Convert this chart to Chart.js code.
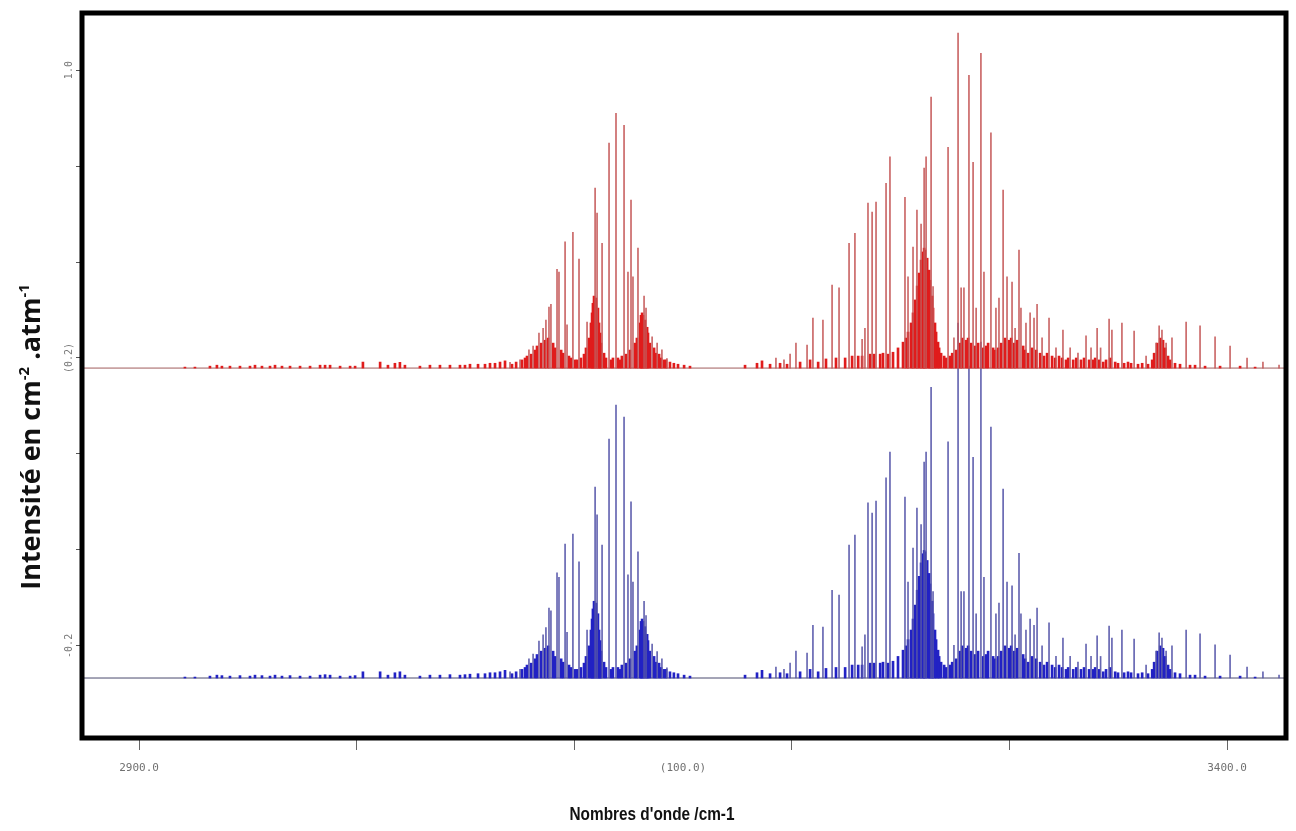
<!DOCTYPE html>
<html>
<head>
<meta charset="utf-8">
<script src="https://cdn.jsdelivr.net/npm/chart.js@4.4.1/dist/chart.umd.min.js"></script>
<style>
html,body{margin:0;padding:0;background:#fff;}
#wrap{width:1296px;height:831px;position:relative;}
</style>
</head>
<body>
<div id="wrap"><canvas id="c" width="1296" height="831"></canvas></div>
<script>
// ---------- DATA ----------
const X_RANGE = [2873.8, 3427.1];
const Y_RANGE = [-0.392, 1.119];
const X_TICKS = [2900, 3000, 3100, 3150, 3200, 3300, 3400];
const X_TICK_LABELS = ['2900.0', '', '', '(100.0)', '', '', '3400.0'];
const Y_TICKS = [-0.2, 0, 0.2, 0.4, 0.6, 0.8, 1.0];
const Y_TICK_LABELS = ['-0.2', '', '', '(0.2)', '', '', '1.0'];
const X_TITLE = "Nombres d'onde /cm-1";
const Y_TITLE_PARTS = [['Intensité en cm', false], ['-2', true], [' .atm', false], ['-1', true]];

// baselines of the two spectra (y-axis units)
const RED_BASELINE = 0.379;
const BLUE_BASELINE = -0.267;

// strong lines: wavenumbers (cm-1) and intensities above baseline
const LINE_WN = [
  3070.5, 3075.1, 3079.2, 3081.1, 3083.8, 3085.7, 3087.0, 3088.4, 3089.3, 3092.1, 3093.0, 3095.8, 3096.7, 3099.4, 3102.2, 3105.9,
  3109.6, 3110.5, 3112.8, 3116.0, 3119.2, 3122.9, 3124.7, 3126.1, 3127.0, 3129.3, 3132.1, 3133.0, 3135.8, 3138.1, 3140.3, 3142.6,
  3192.7, 3196.4, 3199.2, 3201.9, 3207.0, 3209.7, 3214.3, 3218.5, 3221.7, 3226.3, 3229.0, 3232.3, 3233.6, 3235.0, 3236.9, 3238.7,
  3243.3, 3245.1, 3252.0, 3253.4, 3255.7, 3257.5, 3259.4, 3260.8, 3261.7, 3264.0, 3264.9, 3271.8, 3274.5, 3276.4, 3277.8, 3279.1,
  3281.4, 3283.3, 3284.7, 3286.9, 3288.3, 3291.5, 3293.8, 3295.2, 3297.1, 3298.9, 3301.2, 3302.6, 3304.4, 3305.3, 3307.6, 3309.5,
  3311.3, 3312.7, 3315.0, 3318.2, 3321.4, 3324.6, 3327.9, 3331.5, 3335.2, 3337.5, 3340.3, 3341.9, 3345.8, 3347.1, 3351.7, 3357.3,
  3362.8, 3367.4, 3368.8, 3370.1, 3372.0, 3374.7, 3381.2, 3387.6, 3394.5, 3401.4, 3409.2, 3416.5, 3423.9
];
const RED_LINE_I = [
  0.012, 0.017, 0.038, 0.046, 0.073, 0.083, 0.100, 0.127, 0.133, 0.206, 0.200, 0.263, 0.090, 0.283, 0.227, 0.096,
  0.375, 0.323, 0.260, 0.469, 0.531, 0.506, 0.200, 0.350, 0.190, 0.250, 0.150, 0.125, 0.065, 0.052, 0.038, 0.020,
  0.021, 0.017, 0.029, 0.052, 0.048, 0.104, 0.100, 0.173, 0.167, 0.260, 0.281, 0.060, 0.083, 0.344, 0.325, 0.346,
  0.385, 0.440, 0.356, 0.190, 0.252, 0.329, 0.300, 0.417, 0.440, 0.565, 0.170, 0.460, 0.063, 0.698, 0.167, 0.167,
  0.610, 0.429, 0.125, 0.656, 0.200, 0.490, 0.125, 0.146, 0.371, 0.190, 0.179, 0.083, 0.246, 0.125, 0.094, 0.115,
  0.104, 0.133, 0.063, 0.104, 0.042, 0.079, 0.042, 0.031, 0.067, 0.042, 0.083, 0.042, 0.102, 0.079, 0.094, 0.077,
  0.025, 0.052, 0.088, 0.079, 0.052, 0.063, 0.096, 0.088, 0.065, 0.046, 0.021, 0.0125, 0.006
];
const BLUE_LINE_I = [
  0.013, 0.018, 0.040, 0.050, 0.077, 0.090, 0.105, 0.146, 0.140, 0.219, 0.210, 0.279, 0.095, 0.300, 0.242, 0.100,
  0.398, 0.340, 0.277, 0.498, 0.569, 0.544, 0.215, 0.367, 0.200, 0.263, 0.160, 0.130, 0.071, 0.055, 0.040, 0.021,
  0.023, 0.018, 0.031, 0.056, 0.052, 0.110, 0.106, 0.183, 0.173, 0.277, 0.298, 0.065, 0.090, 0.365, 0.344, 0.369,
  0.417, 0.471, 0.377, 0.200, 0.271, 0.354, 0.320, 0.450, 0.471, 0.606, 0.180, 0.492, 0.068, 0.740, 0.180, 0.180,
  0.650, 0.460, 0.134, 0.700, 0.210, 0.523, 0.134, 0.156, 0.394, 0.200, 0.192, 0.090, 0.260, 0.134, 0.100, 0.123,
  0.110, 0.146, 0.067, 0.115, 0.045, 0.083, 0.045, 0.033, 0.071, 0.045, 0.088, 0.045, 0.108, 0.083, 0.100, 0.081,
  0.027, 0.056, 0.094, 0.083, 0.056, 0.067, 0.100, 0.092, 0.069, 0.048, 0.023, 0.013, 0.006
];

// dense weak-line forest: wavenumbers and intensities above baseline
const FOREST_WN = [
  2921.1, 2925.7, 2932.6, 2935.8, 2938.1, 2941.8, 2946.4, 2951.0, 2953.3, 2956.5, 2960.2, 2962.5, 2965.7, 2969.4, 2974.0, 2978.6,
  2983.2, 2985.5, 2987.8, 2992.4, 2997.0, 2999.3, 3002.9, 3010.8, 3014.4, 3017.6, 3019.9, 3022.2, 3029.1, 3033.7, 3038.3, 3042.9,
  3047.5, 3049.8, 3052.1, 3055.8, 3059.0, 3061.3, 3063.6, 3065.9, 3068.2,
  3071.4, 3073.3, 3076.0, 3077.4, 3078.3, 3080.2, 3082.0, 3082.9, 3084.8, 3086.6, 3088.0, 3090.3, 3091.2, 3094.0, 3094.9, 3097.6,
  3098.5, 3100.4, 3101.3, 3103.1, 3104.5, 3105.4, 3106.8, 3107.7, 3108.2, 3108.6, 3109.1, 3110.0, 3110.9, 3111.4, 3111.9, 3112.3,
  3113.7, 3114.6, 3116.9, 3117.8, 3120.1, 3121.0, 3121.9, 3123.8, 3125.6, 3127.9, 3128.8, 3130.3, 3130.7, 3131.2, 3131.6, 3132.5,
  3133.5, 3133.9, 3134.8, 3136.7, 3137.6, 3139.0, 3139.9, 3141.3, 3142.2, 3144.0, 3145.8, 3147.7, 3150.5, 3153.2,
  3178.5, 3184.0, 3186.3, 3190.0, 3194.6, 3197.8, 3203.8, 3208.4, 3212.1, 3215.7, 3220.3, 3224.5, 3227.7, 3230.5, 3232.3, 3236.0,
  3237.8, 3240.6, 3241.9, 3244.2, 3246.5, 3248.8, 3251.1, 3252.5, 3253.4, 3254.8, 3255.7, 3256.7, 3257.6, 3258.5, 3259.4, 3260.3,
  3260.8, 3261.2, 3262.2, 3263.1, 3263.5, 3264.5, 3264.9, 3265.8, 3266.3, 3267.2, 3267.7, 3268.6, 3270.0, 3270.9, 3272.7, 3273.7,
  3275.5, 3277.3, 3278.3, 3280.1, 3281.0, 3282.4, 3284.2, 3285.6, 3287.9, 3289.3, 3290.2, 3292.5, 3293.4, 3294.8, 3296.2, 3298.0,
  3299.9, 3300.8, 3302.2, 3303.5, 3306.3, 3307.2, 3308.6, 3310.4, 3312.3, 3314.1, 3315.9, 3317.3, 3319.6, 3321.0, 3322.8, 3324.2,
  3326.0, 3327.0, 3329.3, 3330.7, 3332.9, 3334.3, 3336.6, 3338.5, 3339.4, 3341.2, 3343.1, 3344.4, 3346.3, 3348.6, 3349.9, 3352.7,
  3354.5, 3355.9, 3359.1, 3361.0, 3363.7, 3365.6, 3366.5, 3367.9, 3369.3, 3370.6, 3371.6, 3372.9, 3373.8, 3376.1, 3378.4, 3383.0,
  3385.3, 3389.9, 3396.8, 3406.0, 3412.9
];
const RED_FOREST_I = [
  0.002, 0.002, 0.004, 0.006, 0.004, 0.004, 0.004, 0.004, 0.006, 0.004, 0.004, 0.006, 0.004, 0.004, 0.004, 0.004,
  0.006, 0.006, 0.006, 0.004, 0.004, 0.004, 0.0125, 0.0125, 0.006, 0.010, 0.012, 0.006, 0.004, 0.006, 0.006, 0.006,
  0.006, 0.006, 0.008, 0.008, 0.008, 0.010, 0.010, 0.0125, 0.015,
  0.008, 0.0125, 0.017, 0.021, 0.025, 0.029, 0.0375, 0.046, 0.052, 0.058, 0.0625, 0.052, 0.042, 0.0375, 0.031, 0.025,
  0.021, 0.017, 0.017, 0.021, 0.029, 0.042, 0.0625, 0.094, 0.115, 0.135, 0.150, 0.146, 0.125, 0.094, 0.073, 0.052,
  0.031, 0.021, 0.017, 0.021, 0.021, 0.017, 0.025, 0.029, 0.0375, 0.052, 0.0625, 0.094, 0.110, 0.115, 0.110, 0.100,
  0.085, 0.073, 0.052, 0.042, 0.031, 0.029, 0.021, 0.017, 0.017, 0.0125, 0.010, 0.008, 0.006, 0.004,
  0.006, 0.010, 0.015, 0.008, 0.010, 0.008, 0.0125, 0.017, 0.0125, 0.019, 0.021, 0.021, 0.025, 0.025, 0.025, 0.029,
  0.029, 0.029, 0.031, 0.029, 0.033, 0.042, 0.054, 0.0625, 0.075, 0.094, 0.115, 0.142, 0.171, 0.198, 0.225, 0.242,
  0.250, 0.246, 0.229, 0.204, 0.183, 0.150, 0.125, 0.094, 0.075, 0.054, 0.042, 0.031, 0.025, 0.021, 0.025, 0.031,
  0.0375, 0.052, 0.0625, 0.058, 0.0625, 0.052, 0.046, 0.052, 0.042, 0.046, 0.052, 0.042, 0.0375, 0.042, 0.052, 0.0625,
  0.058, 0.0625, 0.052, 0.058, 0.046, 0.0375, 0.031, 0.042, 0.0375, 0.031, 0.025, 0.031, 0.025, 0.021, 0.025, 0.021,
  0.017, 0.021, 0.017, 0.021, 0.017, 0.021, 0.017, 0.017, 0.021, 0.017, 0.0125, 0.017, 0.021, 0.0125, 0.010, 0.010,
  0.0125, 0.010, 0.008, 0.010, 0.008, 0.017, 0.031, 0.052, 0.0625, 0.058, 0.042, 0.025, 0.017, 0.010, 0.008, 0.006,
  0.006, 0.004, 0.004, 0.004, 0.002
];
const BLUE_FOREST_I = [
  0.002, 0.002, 0.004, 0.006, 0.005, 0.004, 0.005, 0.004, 0.006, 0.005, 0.004, 0.006, 0.004, 0.005, 0.004, 0.004,
  0.006, 0.007, 0.006, 0.004, 0.004, 0.005, 0.013, 0.013, 0.006, 0.011, 0.013, 0.006, 0.004, 0.006, 0.006, 0.007,
  0.006, 0.007, 0.008, 0.009, 0.009, 0.011, 0.011, 0.013, 0.016,
  0.009, 0.013, 0.018, 0.022, 0.027, 0.031, 0.040, 0.049, 0.056, 0.062, 0.067, 0.056, 0.045, 0.040, 0.033, 0.027,
  0.022, 0.018, 0.018, 0.022, 0.031, 0.045, 0.067, 0.100, 0.123, 0.144, 0.160, 0.156, 0.134, 0.100, 0.078, 0.056,
  0.033, 0.022, 0.018, 0.022, 0.022, 0.018, 0.027, 0.031, 0.040, 0.056, 0.067, 0.100, 0.118, 0.123, 0.118, 0.107,
  0.091, 0.078, 0.056, 0.045, 0.033, 0.031, 0.022, 0.018, 0.018, 0.013, 0.011, 0.009, 0.006, 0.004,
  0.006, 0.011, 0.016, 0.009, 0.011, 0.009, 0.013, 0.018, 0.013, 0.020, 0.022, 0.022, 0.027, 0.027, 0.027, 0.031,
  0.031, 0.031, 0.033, 0.031, 0.035, 0.045, 0.058, 0.067, 0.080, 0.100, 0.123, 0.152, 0.183, 0.212, 0.240, 0.259,
  0.267, 0.263, 0.245, 0.218, 0.196, 0.160, 0.134, 0.100, 0.080, 0.058, 0.045, 0.033, 0.027, 0.022, 0.027, 0.033,
  0.040, 0.056, 0.067, 0.062, 0.067, 0.056, 0.049, 0.056, 0.045, 0.049, 0.056, 0.045, 0.040, 0.045, 0.056, 0.067,
  0.062, 0.067, 0.056, 0.062, 0.049, 0.040, 0.033, 0.045, 0.040, 0.033, 0.027, 0.033, 0.027, 0.022, 0.027, 0.022,
  0.018, 0.022, 0.018, 0.022, 0.018, 0.022, 0.018, 0.018, 0.022, 0.018, 0.013, 0.018, 0.022, 0.013, 0.011, 0.011,
  0.013, 0.011, 0.009, 0.011, 0.009, 0.018, 0.033, 0.056, 0.067, 0.062, 0.045, 0.027, 0.018, 0.011, 0.009, 0.006,
  0.006, 0.004, 0.004, 0.004, 0.002
];

// ---------- STYLE ----------
const RED_LINE_COLOR = 'rgba(196,86,86,0.9)';
const RED_FOREST_COLOR = '#e01c1c';
const BLUE_LINE_COLOR = 'rgba(84,84,168,0.9)';
const BLUE_FOREST_COLOR = '#2222c4';

function sticks(wn, inten, base) {
  return wn.map((w, i) => ({ x: w, y: [base, base + inten[i]] }));
}
function baseline(base) {
  return [{ x: X_RANGE[0], y: base }, { x: X_RANGE[1], y: base }];
}

const framePlugin = {
  id: 'frame',
  afterDraw(chart) {
    const { ctx, chartArea: a } = chart;
    ctx.save();
    ctx.strokeStyle = '#000';
    ctx.lineWidth = 5;
    ctx.strokeRect(a.left, a.top, a.right - a.left, a.bottom - a.top);
    ctx.restore();
  }
};

const titlesPlugin = {
  id: 'axisTitles',
  afterDraw(chart) {
    const ctx = chart.ctx;
    ctx.save();
    ctx.fillStyle = '#111';
    // x-axis title: bold, horizontally condensed to ~165px
    ctx.font = "bold 18px 'Liberation Sans', 'DejaVu Sans', sans-serif";
    const w0 = ctx.measureText(X_TITLE).width;
    const sx = Math.min(1, 165 / w0);
    ctx.save();
    ctx.translate(652, 815);
    ctx.scale(sx, 1);
    ctx.textAlign = 'center';
    ctx.textBaseline = 'middle';
    ctx.fillText(X_TITLE, 0, 0);
    ctx.restore();

    const baseFont = "bold 27px 'Open Sans', 'DejaVu Sans', sans-serif";
    const supFont = "bold 15px 'Open Sans', 'DejaVu Sans', sans-serif";
    let total = 0;
    const widths = Y_TITLE_PARTS.map(([t, sup]) => {
      ctx.font = sup ? supFont : baseFont;
      const w = ctx.measureText(t).width;
      total += w;
      return w;
    });
    ctx.translate(40, 437);
    ctx.rotate(-Math.PI / 2);
    ctx.textAlign = 'left';
    ctx.textBaseline = 'alphabetic';
    let x = -total / 2;
    Y_TITLE_PARTS.forEach(([t, sup], i) => {
      ctx.font = sup ? supFont : baseFont;
      ctx.fillText(t, x, sup ? -11 : 0);
      x += widths[i];
    });
    ctx.restore();
  }
};

new Chart(document.getElementById('c'), {
  type: 'bar',
  data: {
    datasets: [
      { label: 'red lines', data: sticks(LINE_WN, RED_LINE_I, RED_BASELINE), backgroundColor: RED_LINE_COLOR,
        barThickness: 1, grouped: false, borderWidth: 0, order: 1 },
      { label: 'red forest', data: sticks(FOREST_WN, RED_FOREST_I, RED_BASELINE), backgroundColor: RED_FOREST_COLOR,
        barThickness: 2, grouped: false, borderWidth: 0, order: 2 },
      { type: 'line', label: 'red baseline', data: baseline(RED_BASELINE), borderColor: '#a05c5c', borderWidth: 1,
        pointRadius: 0, order: 3 },
      { label: 'blue lines', data: sticks(LINE_WN, BLUE_LINE_I, BLUE_BASELINE), backgroundColor: BLUE_LINE_COLOR,
        barThickness: 1, grouped: false, borderWidth: 0, order: 4 },
      { label: 'blue forest', data: sticks(FOREST_WN, BLUE_FOREST_I, BLUE_BASELINE), backgroundColor: BLUE_FOREST_COLOR,
        barThickness: 2, grouped: false, borderWidth: 0, order: 5 },
      { type: 'line', label: 'blue baseline', data: baseline(BLUE_BASELINE), borderColor: '#4a4a6e', borderWidth: 1,
        pointRadius: 0, order: 6 }
    ]
  },
  options: {
    responsive: false,
    devicePixelRatio: 1,
    animation: false,
    layout: { padding: { top: 13, right: 10, left: 0, bottom: 0 } },
    plugins: { legend: { display: false }, tooltip: { enabled: false } },
    scales: {
      x: {
        type: 'linear', position: 'bottom', min: X_RANGE[0], max: X_RANGE[1], offset: false,
        afterBuildTicks: s => { s.ticks = X_TICKS.map(v => ({ value: v })); },
        afterFit: s => { s.height = 93; },
        ticks: {
          autoSkip: false, minRotation: 0, maxRotation: 0, padding: 12, color: '#707070',
          font: { family: "'DejaVu Sans Mono', monospace", size: 11 },
          callback: (v, i) => X_TICK_LABELS[i]
        },
        grid: {
          drawOnChartArea: false, drawTicks: true, tickLength: 12, offset: false, lineWidth: 1,
          color: ctx => (X_TICK_LABELS[ctx.index] === '(100.0)' ? 'rgba(0,0,0,0)' : '#666')
        },
        border: { display: false }
      },
      y: {
        type: 'linear', position: 'left', min: Y_RANGE[0], max: Y_RANGE[1],
        afterBuildTicks: s => { s.ticks = Y_TICKS.map(v => ({ value: v })); },
        afterFit: s => { s.width = 82; },
        ticks: {
          autoSkip: false, minRotation: 90, maxRotation: 90, crossAlign: 'center', padding: -8, color: '#7a7a7a',
          font: { family: "'DejaVu Sans Mono', monospace", size: 10 },
          callback: (v, i) => Y_TICK_LABELS[i]
        },
        grid: { drawOnChartArea: false, drawTicks: true, tickLength: 6, color: '#555', lineWidth: 1 },
        border: { display: false }
      }
    }
  },
  plugins: [framePlugin, titlesPlugin]
});
</script>
</body>
</html>
